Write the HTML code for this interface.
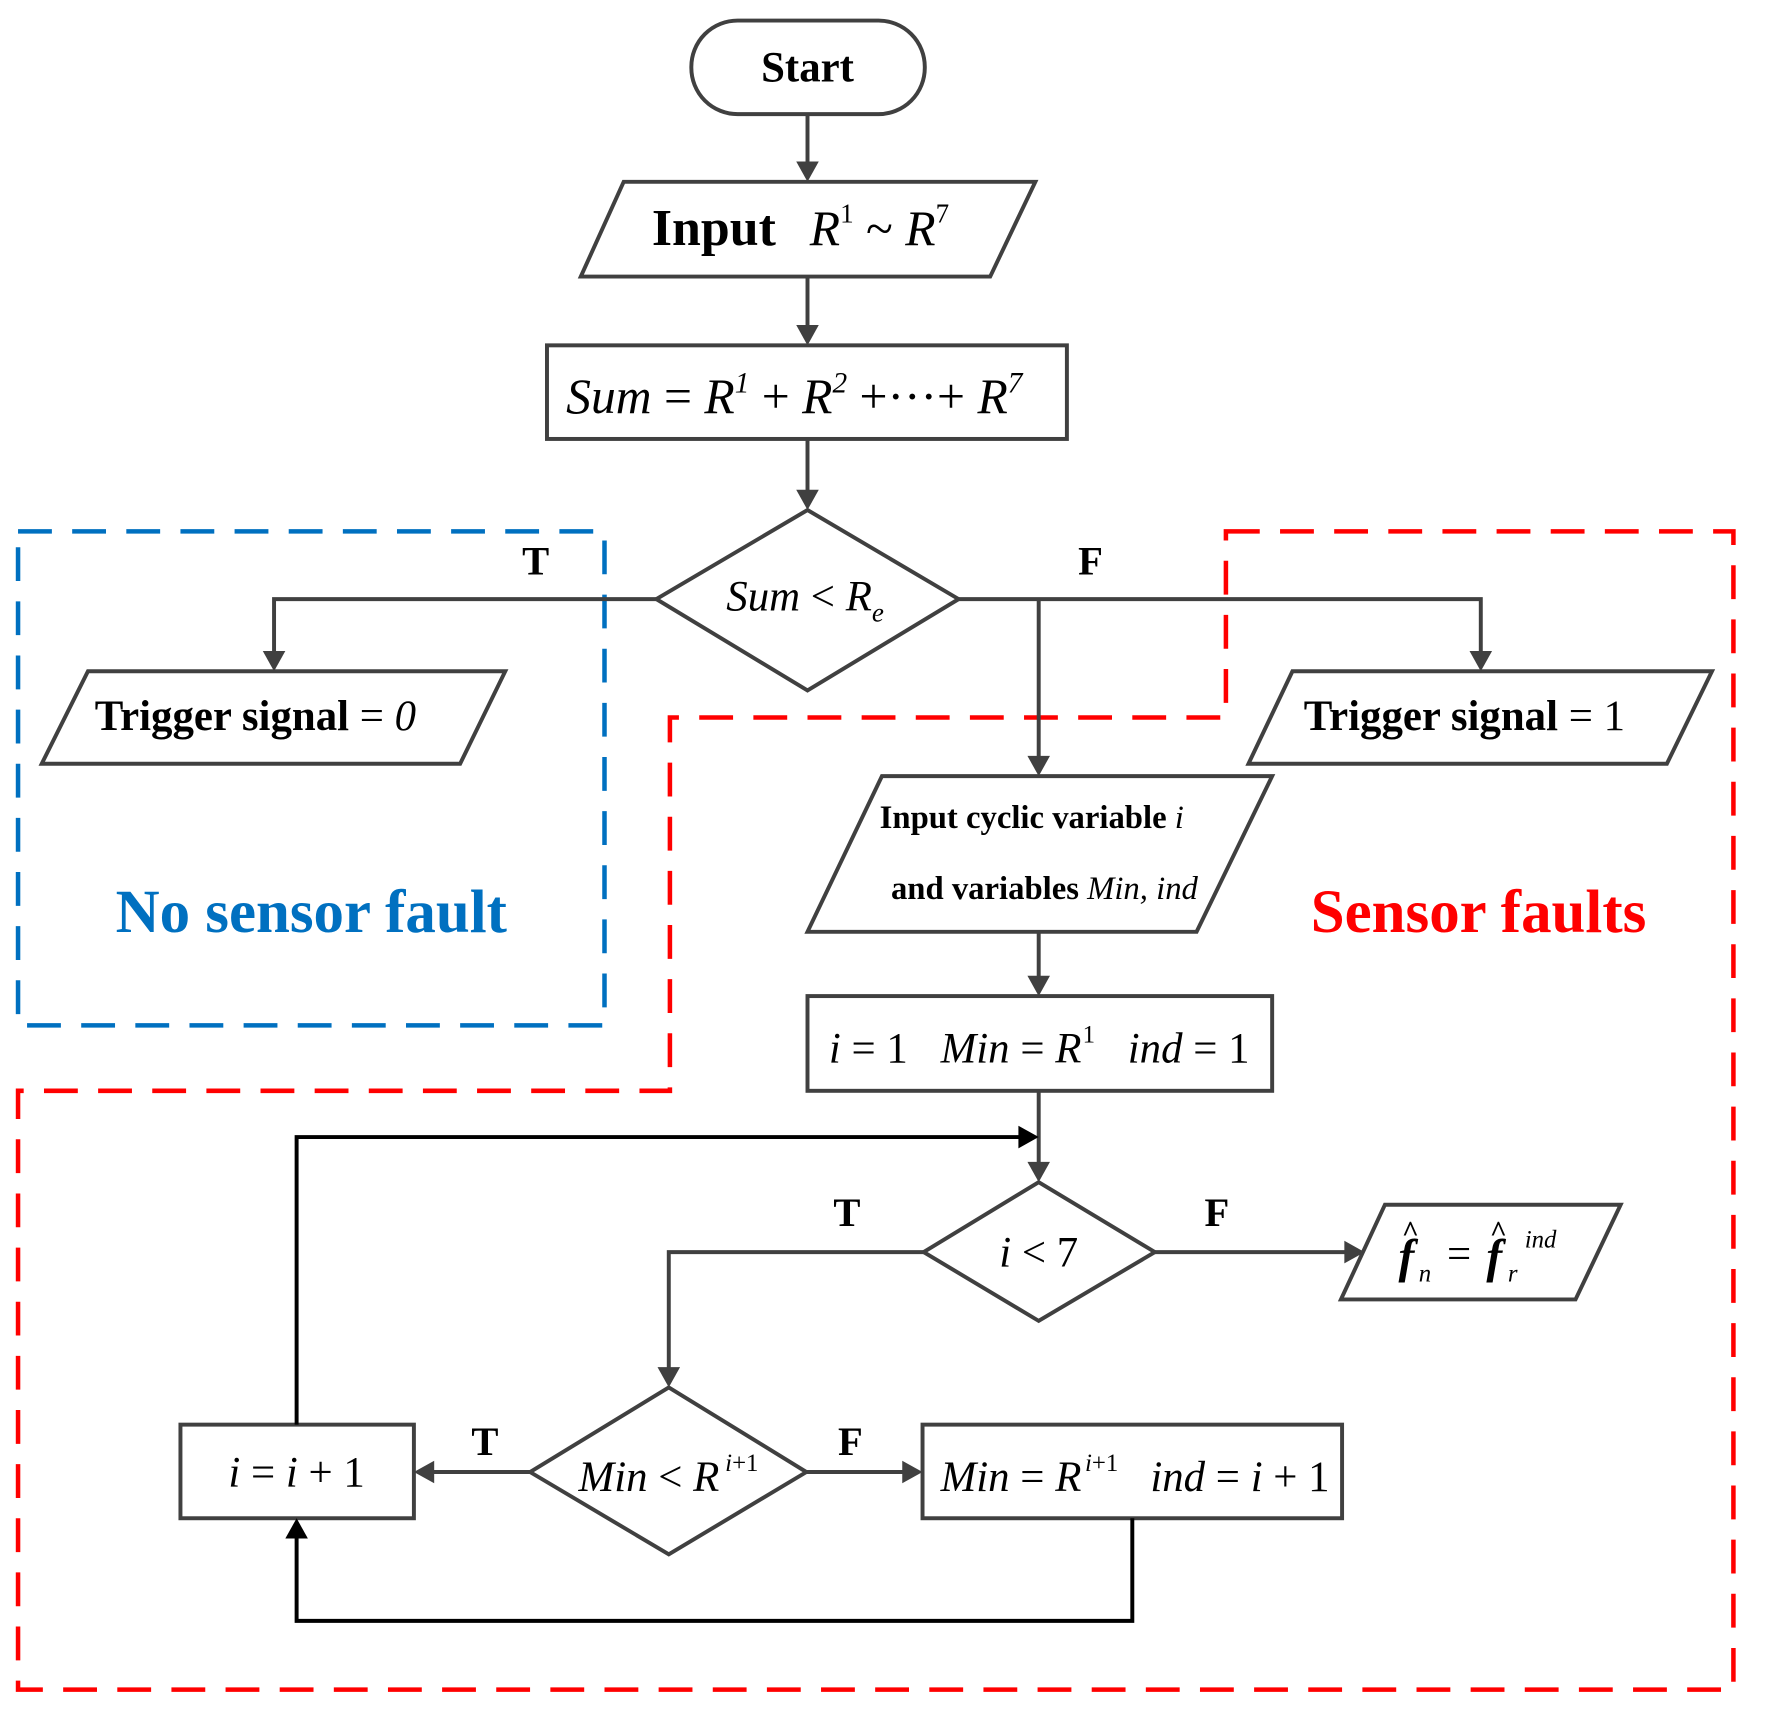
<!DOCTYPE html>
<html><head><meta charset="utf-8"><style>
html,body{margin:0;padding:0;background:#fff;}
svg{display:block;font-family:"Liberation Serif",serif;}
text,tspan{font-family:"Liberation Serif",serif;}
text{fill:#000;}
.b{font-weight:bold;}
.i{font-style:italic;}
</style></head><body>
<svg width="1765" height="1726" viewBox="0 0 1565 1530" xmlns="http://www.w3.org/2000/svg">
<rect x="16" y="471" width="520" height="438" fill="none" stroke="#0070c0" stroke-width="4" stroke-dasharray="30,18"/>
<polygon points="1087,471 1537,471 1537,1498 16,1498 16,967 594,967 594,636 1087,636" fill="none" stroke="#ff0000" stroke-width="4" stroke-dasharray="30,18"/>

<g fill="none" stroke="#404040" stroke-width="3.5">
<rect x="613" y="18" width="207" height="83" rx="41"/>
<polygon points="553,161 918,161 878,245 515,245"/>
<rect x="485" y="306" width="461" height="83"/>
<polygon points="582,531 716,452 850,531 716,612"/>
<polygon points="78,595 448,595 408,677 37,677"/>
<polygon points="1146,595 1518,595 1478,677 1107,677"/>
<polygon points="782,688 1128,688 1061,826 716,826"/>
<rect x="716" y="883" width="412" height="84"/>
<polygon points="819,1110 921,1048 1024,1110 921,1171"/>
<polygon points="1228,1068 1437,1068 1397,1152 1189,1152"/>
<polygon points="470,1305 593,1230 715,1305 593,1378"/>
<rect x="160" y="1263" width="207" height="83"/>
<rect x="818" y="1263" width="372" height="83"/>
<line x1="716" y1="101" x2="716" y2="145"/>
<line x1="716" y1="245" x2="716" y2="290"/>
<line x1="716" y1="389" x2="716" y2="436"/>
<polyline points="582,531 243,531 243,580"/>
<polyline points="850,531 1313,531 1313,580"/>
<line x1="921" y1="531" x2="921" y2="672"/>
<line x1="921" y1="826" x2="921" y2="867"/>
<line x1="921" y1="967" x2="921" y2="1032"/>
<line x1="1024" y1="1110" x2="1194" y2="1110"/>
<polyline points="819,1110 593,1110 593,1214"/>
<line x1="470" y1="1305" x2="383" y2="1305"/>
<line x1="715" y1="1305" x2="802" y2="1305"/>
</g>
<g fill="none" stroke="#000" stroke-width="3.5">
<polyline points="263,1263 263,1008 905,1008"/>
<polyline points="1004,1346 1004,1437 263,1437 263,1362"/>
</g>
<g fill="#404040">
<polygon points="706,143 726,143 716,161"/>
<polygon points="706,288 726,288 716,306"/>
<polygon points="706,434 726,434 716,452"/>
<polygon points="233,577 253,577 243,595"/>
<polygon points="1303,577 1323,577 1313,595"/>
<polygon points="911,670 931,670 921,688"/>
<polygon points="911,865 931,865 921,883"/>
<polygon points="911,1030 931,1030 921,1048"/>
<polygon points="1192,1100 1192,1120 1210,1110"/>
<polygon points="583,1212 603,1212 593,1230"/>
<polygon points="385,1295 385,1315 367,1305"/>
<polygon points="800,1295 800,1315 818,1305"/>
</g>
<g fill="#000">
<polygon points="903,998 903,1018 921,1008"/>
<polygon points="253,1364 273,1364 263,1346"/>
</g>
<text x="716" y="72" font-size="38" class="b" text-anchor="middle">Start</text>
<text x="578" y="217" font-size="46" class="b">Input</text>
<text x="718" y="217" font-size="44" class="i">R<tspan font-size="24" dy="-20" font-style="normal">1</tspan><tspan dy="20" font-style="normal"> ~ </tspan>R<tspan font-size="24" dy="-20" font-style="normal">7</tspan></text>
<text x="502" y="366" font-size="44"><tspan class="i">Sum</tspan> = <tspan class="i">R</tspan><tspan font-size="26" dy="-18" class="i">1</tspan><tspan dy="18"> + </tspan><tspan class="i">R</tspan><tspan font-size="26" dy="-18" class="i">2</tspan><tspan dy="18"> +···+ </tspan><tspan class="i">R</tspan><tspan font-size="26" dy="-18" class="i">7</tspan></text>
<text x="644" y="541" font-size="38"><tspan class="i">Sum</tspan> &lt; <tspan class="i">R</tspan><tspan class="i" font-size="24" dy="10">e</tspan></text>
<text x="475" y="509" font-size="36" class="b" text-anchor="middle">T</text>
<text x="967" y="509" font-size="36" class="b" text-anchor="middle">F</text>
<text x="84" y="647" font-size="38"><tspan class="b">Trigger signal</tspan> = <tspan class="i">0</tspan></text>
<text x="1156" y="647" font-size="38"><tspan class="b">Trigger signal</tspan> = 1</text>
<text x="780" y="734" font-size="29"><tspan class="b">Input cyclic variable </tspan><tspan class="i">i</tspan></text>
<text x="790" y="797" font-size="29"><tspan class="b">and variables </tspan><tspan class="i">Min, ind</tspan></text>
<text x="276" y="826" font-size="54" class="b" text-anchor="middle" style="fill:#0070c0">No sensor fault</text>
<text x="1311" y="826" font-size="54" class="b" text-anchor="middle" style="fill:#ff0000">Sensor faults</text>
<text x="735" y="942" font-size="38" class="i">i <tspan font-style="normal">= 1</tspan></text>
<text x="834" y="942" font-size="38" class="i">Min <tspan font-style="normal">=</tspan> R</text>
<text x="960" y="924" font-size="22">1</text>
<text x="1000" y="942" font-size="38" class="i">ind <tspan font-style="normal">= 1</tspan></text>
<text x="751" y="1087" font-size="36" class="b" text-anchor="middle">T</text>
<text x="1079" y="1087" font-size="36" class="b" text-anchor="middle">F</text>
<text x="921" y="1123" font-size="38" text-anchor="middle"><tspan class="i">i</tspan> &lt; 7</text>
<text x="1240" y="1128" font-size="42" class="b i">f</text>
<text x="1258" y="1136" font-size="22" class="i">n</text>
<text x="1283" y="1124" font-size="38">=</text>
<text x="1318" y="1128" font-size="42" class="b i">f</text>
<text x="1337" y="1136" font-size="22" class="i">r</text>
<text x="1352" y="1106" font-size="22" class="i">ind</text>
<text x="1243" y="1100" font-size="26" class="b">^</text>
<text x="1321" y="1100" font-size="26" class="b">^</text>
<text x="430" y="1290" font-size="36" class="b" text-anchor="middle">T</text>
<text x="754" y="1290" font-size="36" class="b" text-anchor="middle">F</text>
<text x="263" y="1318" font-size="38" text-anchor="middle"><tspan class="i">i</tspan> = <tspan class="i">i</tspan> + 1</text>
<text x="513" y="1322" font-size="38"><tspan class="i">Min</tspan> &lt; <tspan class="i">R</tspan></text>
<text x="643" y="1304" font-size="22"><tspan class="i">i</tspan>+1</text>
<text x="834" y="1322" font-size="38"><tspan class="i">Min</tspan> = <tspan class="i">R</tspan></text>
<text x="962" y="1304" font-size="22"><tspan class="i">i</tspan>+1</text>
<text x="1020" y="1322" font-size="38"><tspan class="i">ind</tspan> = <tspan class="i">i</tspan> + 1</text>
</svg>
</body></html>
